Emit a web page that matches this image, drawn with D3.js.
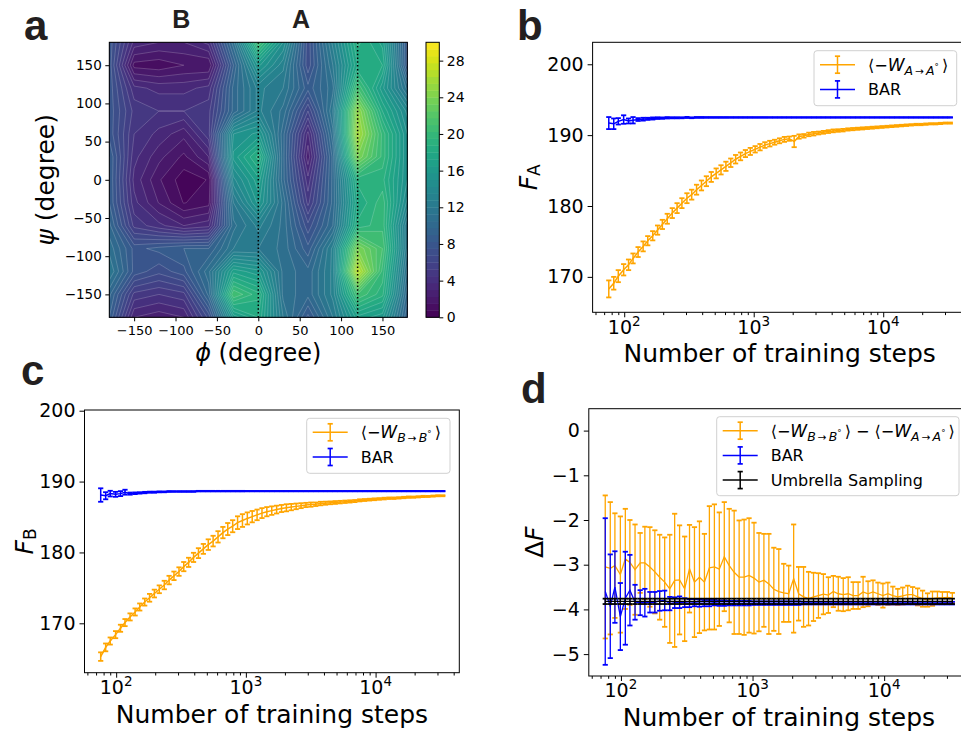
<!DOCTYPE html>
<html>
<head>
<meta charset="utf-8">
<script src="https://cdn.jsdelivr.net/npm/d3@7"></script>
<style>
  body { margin: 0; background: #fff; }
  svg { font-family: "DejaVu Sans", sans-serif; }
</style>
</head>
<body>
<div id="chart-area"></div>
<script>
// ---- panel a: free energy surface on a 30 degree grid ----
const phiGrid = [-180, -150, -120, -90, -60, -30, 0, 30, 60, 90, 120, 150, 180];
const psiGrid = [180, 150, 120, 90, 60, 30, 0, -30, -60, -90, -120, -150, -180];
const fesGrid = [
  [8, 3.5, 3, 3, 4, 11, 21, 15, 7, 13, 19, 17, 8],
  [8, 1.2, 1.0, 1.5, 1.5, 9, 16, 13, 7, 12, 18, 18, 8],
  [8, 4, 3.5, 3.5, 4, 10, 13, 12, 8.5, 11, 21, 16, 11],
  [8, 5, 4.5, 4.5, 5, 10, 13, 11, 6, 12, 25, 18, 14],
  [8, 4.5, 3.5, 2.5, 5, 15, 16, 10, 3.5, 11, 26, 20, 15],
  [9, 4, 2.5, 1.3, 3, 16, 19, 10, 2.5, 10, 24, 20, 15],
  [9, 3.5, 1.6, 0.3, 0.8, 14, 17, 10, 4, 10, 19, 19, 15],
  [9, 4, 2.2, 0.7, 1.2, 12, 16, 11, 5, 10, 18, 20, 14],
  [10, 5, 4, 3, 3.5, 11, 13, 11, 7, 10.5, 19, 20, 12],
  [11, 8, 8.5, 9, 9, 12, 12, 11, 8.5, 13, 24, 21, 12],
  [12, 8, 7, 8, 11, 17, 16, 11, 10, 13, 27, 20, 11],
  [10, 5, 4.5, 5, 10, 21, 19, 11, 10, 13, 21, 19, 10],
  [9, 3, 2.5, 3, 7, 16, 18, 12, 8, 12, 17, 16, 9]
];
const angleTicks = [-150, -100, -50, 0, 50, 100, 150];
const cbTicks = [0, 4, 8, 12, 16, 20, 24, 28];
const phiMarks = [0, 120];

// ---- panels b, c, d: training checkpoints ----
const steps = [76, 83, 90, 99, 108, 117, 128, 140, 152, 166, 181, 197, 215, 235, 256, 279, 305, 332, 362, 395,
  431, 470, 513, 559, 610, 665, 725, 791, 863, 941, 1026, 1119, 1220, 1331, 1451, 1583, 1726, 1883, 2053, 2239,
  2442, 2664, 2905, 3168, 3455, 3769, 4110, 4482, 4889, 5332, 5815, 6342, 6917, 7543, 8227, 8973, 9784, 10672,
  11640, 12690, 13840, 15100, 16460, 17960, 19590, 21360, 23290, 25400, 27710, 30220, 32960];

const fA_work = [168.3, 169.1, 170.1, 171.0, 171.7, 172.6, 173.5, 174.3, 175.1, 175.8, 176.6, 177.4, 178.2, 179.0, 179.7,
  180.4, 181.1, 181.6, 182.3, 182.9, 183.5, 184.1, 184.6, 185.1, 185.6, 186.1, 186.6, 187.0, 187.4, 187.7,
  188.0, 188.3, 188.6, 188.8, 189.0, 189.2, 189.4, 189.5, 189.1, 189.8, 189.9, 190.1, 190.2, 190.3, 190.4,
  190.5, 190.6, 190.65, 190.7, 190.8, 190.85, 190.9, 190.95, 191.0, 191.05, 191.1, 191.15, 191.2, 191.25, 191.3,
  191.35, 191.4, 191.45, 191.5, 191.5, 191.55, 191.6, 191.6, 191.65, 191.7, 191.7];
const fA_workErr = [1.2, 0.9, 0.85, 0.8, 0.75, 0.7, 0.7, 0.7, 0.65, 0.65, 0.65, 0.65, 0.7, 0.7, 0.7,
  0.7, 0.7, 0.7, 0.7, 0.7, 0.7, 0.7, 0.7, 0.65, 0.65, 0.6, 0.6, 0.55, 0.5, 0.5,
  0.45, 0.45, 0.4, 0.4, 0.35, 0.35, 0.35, 0.3, 0.8, 0.3, 0.25, 0.25, 0.25, 0.2, 0.2,
  0.2, 0.2, 0.18, 0.18, 0.16, 0.16, 0.15, 0.15, 0.14, 0.14, 0.13, 0.13, 0.12, 0.12, 0.12,
  0.11, 0.11, 0.1, 0.1, 0.1, 0.1, 0.09, 0.09, 0.09, 0.08, 0.08];
const fA_bar = [191.7, 191.6, 191.95, 192.2, 192.0, 192.1, 192.2, 192.25, 192.3, 192.35, 192.4, 192.4, 192.45, 192.45, 192.45,
  192.45, 192.5, 192.45, 192.5, 192.5, 192.5, 192.5, 192.5, 192.5, 192.5, 192.5, 192.5, 192.5, 192.5, 192.5,
  192.5, 192.5, 192.5, 192.5, 192.5, 192.5, 192.5, 192.5, 192.5, 192.5, 192.5, 192.5, 192.5, 192.5, 192.5,
  192.5, 192.5, 192.5, 192.5, 192.5, 192.5, 192.5, 192.5, 192.5, 192.5, 192.5, 192.5, 192.5, 192.5, 192.5,
  192.5, 192.5, 192.5, 192.5, 192.5, 192.5, 192.5, 192.5, 192.5, 192.5, 192.5];
const fA_barErr = [0.85, 0.75, 0.45, 0.6, 0.35, 0.45, 0.2, 0.2, 0.15, 0.15, 0.12, 0.1, 0.1, 0.08, 0.08,
  0.07, 0.07, 0.06, 0.06, 0.06, 0.05, 0.05, 0.05, 0.05, 0.05, 0.04, 0.04, 0.04, 0.04, 0.04,
  0.04, 0.04, 0.04, 0.03, 0.03, 0.03, 0.03, 0.03, 0.03, 0.03, 0.03, 0.03, 0.03, 0.03, 0.03,
  0.03, 0.03, 0.03, 0.03, 0.03, 0.03, 0.03, 0.03, 0.03, 0.03, 0.03, 0.03, 0.03, 0.03, 0.03,
  0.03, 0.03, 0.03, 0.03, 0.03, 0.03, 0.03, 0.03, 0.03, 0.03, 0.03];

const fB_work = [165.3, 166.6, 167.5, 168.4, 169.3, 170.1, 170.9, 171.6, 172.3, 173.0, 173.6, 174.2, 174.8, 175.4, 176.1,
  176.7, 177.3, 178.0, 178.6, 179.3, 179.9, 180.5, 181.1, 181.6, 182.2, 182.8, 183.3, 183.7, 184.2, 184.5,
  184.8, 185.05, 185.3, 185.55, 185.75, 185.9, 186.05, 186.2, 186.3, 186.4, 186.5, 186.6, 186.7, 186.75, 186.8,
  186.9, 186.95, 187.0, 187.05, 187.1, 187.15, 187.2, 187.25, 187.35, 187.4, 187.45, 187.5, 187.55, 187.6, 187.65,
  187.65, 187.7, 187.75, 187.8, 187.8, 187.85, 187.9, 187.9, 187.95, 188.0, 188.0];
const fB_workErr = [0.6, 0.55, 0.5, 0.5, 0.5, 0.5, 0.5, 0.5, 0.5, 0.5, 0.55, 0.55, 0.55, 0.6, 0.6,
  0.6, 0.6, 0.65, 0.65, 0.65, 0.7, 0.7, 0.75, 0.75, 0.8, 0.8, 0.85, 0.85, 0.9, 0.9,
  0.85, 0.8, 0.75, 0.7, 0.65, 0.6, 0.55, 0.5, 0.5, 0.45, 0.4, 0.35, 0.3, 0.3, 0.25,
  0.25, 0.22, 0.2, 0.2, 0.18, 0.17, 0.16, 0.15, 0.15, 0.14, 0.13, 0.13, 0.12, 0.12, 0.11,
  0.11, 0.1, 0.1, 0.1, 0.09, 0.09, 0.09, 0.08, 0.08, 0.08, 0.07];
const fB_bar = [188.1, 188.0, 188.3, 188.2, 188.3, 188.5, 188.3, 188.35, 188.4, 188.45, 188.5, 188.5, 188.55, 188.55, 188.6,
  188.6, 188.6, 188.6, 188.6, 188.6, 188.65, 188.65, 188.65, 188.65, 188.65, 188.65, 188.65, 188.65, 188.65, 188.65,
  188.65, 188.65, 188.65, 188.65, 188.65, 188.65, 188.65, 188.65, 188.65, 188.65, 188.65, 188.65, 188.65, 188.65, 188.65,
  188.65, 188.65, 188.65, 188.65, 188.65, 188.65, 188.65, 188.65, 188.65, 188.65, 188.65, 188.65, 188.65, 188.65, 188.65,
  188.65, 188.65, 188.65, 188.65, 188.65, 188.65, 188.65, 188.65, 188.65, 188.65, 188.65];
const fB_barErr = [0.95, 0.5, 0.4, 0.35, 0.35, 0.35, 0.15, 0.12, 0.1, 0.1, 0.08, 0.08, 0.07, 0.06, 0.06,
  0.05, 0.05, 0.05, 0.05, 0.05, 0.04, 0.04, 0.04, 0.04, 0.04, 0.04, 0.04, 0.04, 0.04, 0.04,
  0.03, 0.03, 0.03, 0.03, 0.03, 0.03, 0.03, 0.03, 0.03, 0.03, 0.03, 0.03, 0.03, 0.03, 0.03,
  0.03, 0.03, 0.03, 0.03, 0.03, 0.03, 0.03, 0.03, 0.03, 0.03, 0.03, 0.03, 0.03, 0.03, 0.03,
  0.03, 0.03, 0.03, 0.03, 0.03, 0.03, 0.03, 0.03, 0.03, 0.03, 0.03];

const dF_work = [-3.05, -3.08, -3.02, -3.22, -2.87, -2.95, -3.11, -2.96, -2.96, -3.05, -3.16, -3.28, -3.39, -3.54, -3.35,
  -3.34, -3.54, -3.09, -3.39, -3.28, -3.39, -3.07, -3.05, -3.10, -2.82, -3.02, -3.17, -3.28, -3.28, -3.24,
  -3.30, -3.39, -3.35, -3.43, -3.55, -3.60, -3.63, -3.65, -3.31, -3.65, -3.72, -3.76, -3.72, -3.69, -3.66,
  -3.68, -3.60, -3.65, -3.67, -3.65, -3.69, -3.69, -3.61, -3.65, -3.61, -3.65, -3.69, -3.65, -3.69, -3.72,
  -3.70, -3.67, -3.67, -3.72, -3.76, -3.79, -3.76, -3.74, -3.74, -3.73, -3.74];
const dF_workErr = [1.60, 1.48, 1.17, 1.30, 1.12, 0.95, 1.01, 0.67, 0.81, 0.89, 0.93, 0.95, 1.00, 1.21, 1.49,
  1.22, 1.17, 0.98, 1.23, 1.25, 1.08, 1.38, 1.40, 1.27, 1.22, 1.27, 1.38, 1.27, 1.29, 1.28,
  1.24, 1.10, 1.04, 1.12, 0.93, 0.95, 0.65, 0.63, 1.21, 0.60, 0.67, 0.60, 0.54, 0.50, 0.45,
  0.40, 0.35, 0.38, 0.37, 0.37, 0.30, 0.30, 0.34, 0.28, 0.26, 0.25, 0.27, 0.25, 0.20, 0.18,
  0.19, 0.20, 0.17, 0.19, 0.18, 0.15, 0.16, 0.14, 0.13, 0.12, 0.11];
const dF_bar = [-3.60, -3.93, -3.50, -4.16, -3.75, -3.57, -3.84, -3.85, -3.85, -3.84, -3.84, -3.81, -3.80, -3.87, -3.85,
  -3.84, -3.85, -3.86, -3.85, -3.86, -3.86, -3.86, -3.85, -3.86, -3.86, -3.86, -3.86, -3.86, -3.86, -3.86,
  -3.86, -3.86, -3.86, -3.86, -3.86, -3.86, -3.86, -3.86, -3.86, -3.86, -3.86, -3.86, -3.86, -3.86, -3.86,
  -3.86, -3.86, -3.86, -3.86, -3.86, -3.86, -3.86, -3.86, -3.86, -3.86, -3.86, -3.86, -3.86, -3.86, -3.86,
  -3.86, -3.86, -3.86, -3.86, -3.86, -3.86, -3.86, -3.86, -3.86, -3.86, -3.86];
const dF_barErr = [1.64, 1.16, 0.80, 0.75, 1.04, 0.79, 0.39, 0.28, 0.31, 0.23, 0.23, 0.22, 0.22, 0.15, 0.12,
  0.13, 0.10, 0.09, 0.08, 0.08, 0.07, 0.07, 0.06, 0.06, 0.06, 0.05, 0.05, 0.05, 0.05, 0.05,
  0.04, 0.04, 0.04, 0.04, 0.04, 0.04, 0.04, 0.04, 0.04, 0.04, 0.03, 0.03, 0.03, 0.03, 0.03,
  0.03, 0.03, 0.03, 0.03, 0.03, 0.03, 0.03, 0.03, 0.03, 0.03, 0.03, 0.03, 0.03, 0.03, 0.03,
  0.03, 0.03, 0.03, 0.03, 0.03, 0.03, 0.03, 0.03, 0.03, 0.03, 0.03];
const dF_umbrella = -3.82;
const dF_umbrellaErr = 0.06;

const fTicks = [170, 180, 190, 200];
const dTicks = [-5, -4, -3, -2, -1, 0];
const stepMajors = [100, 1000, 10000];
const stepMinors = [60, 70, 80, 90, 200, 300, 400, 500, 600, 700, 800, 900, 2000, 3000, 4000, 5000, 6000, 7000, 8000, 9000, 20000, 30000, 40000];

const ORANGE = "#ffa500", BLUE = "#0000ff", BLACK = "#000000";

const svg = d3.select("#chart-area").append("svg")
    .attr("width", 961)
    .attr("height", 731);

function styleAxis(g, fs) {
    g.select(".domain").remove();
    g.attr("font-family", "DejaVu Sans").attr("font-size", fs);
    g.selectAll(".tick line").attr("stroke", "#000").attr("stroke-width", 1);
    g.selectAll(".tick text").attr("fill", "#000");
}

function panelLetter(x, y, s) {
    svg.append("text").attr("x", x).attr("y", y)
        .attr("font-family", "Liberation Sans, Arial, sans-serif")
        .attr("font-weight", "bold").attr("font-size", 42).attr("fill", "#231f20")
        .text(s);
}

// ================= panel a =================
const aL = 109.3, aR = 407.3, aT = 42.3, aB = 317.3;
const xA = d3.scaleLinear().domain([-180, 180]).range([aL, aR]);
const yA = d3.scaleLinear().domain([-180, 180]).range([aB, aT]);
const color = d3.scaleSequential(d3.interpolateViridis).domain([0, 30]);
const levelStep = 0.75;
const levels = d3.range(0, 30, levelStep);

svg.append("clipPath").attr("id", "clipA").append("rect")
    .attr("x", aL).attr("y", aT).attr("width", aR - aL).attr("height", aB - aT);

const nx = phiGrid.length, ny = psiGrid.length;
const gx = d3.scaleLinear().domain([0.5, nx - 0.5]).range([xA(phiGrid[0]), xA(phiGrid[nx - 1])]);
const gy = d3.scaleLinear().domain([0.5, ny - 0.5]).range([yA(psiGrid[0]), yA(psiGrid[ny - 1])]);
const gridPath = d3.geoPath(d3.geoTransform({
    point: function (x, y) { this.stream.point(gx(x), gy(y)); }
}));
const bands = d3.contours().size([nx, ny]).thresholds(levels)(fesGrid.flat());

const plotA = svg.append("g").attr("clip-path", "url(#clipA)");
plotA.selectAll("path.band")
    .data(bands)
    .join("path")
    .attr("class", "band")
    .attr("d", gridPath)
    .attr("fill", d => color(d.value + levelStep / 2))
    .attr("stroke", "rgba(255,255,255,0.32)")
    .attr("stroke-width", 0.6);

plotA.selectAll("line.mark")
    .data(phiMarks)
    .join("line")
    .attr("x1", d => xA(d)).attr("x2", d => xA(d))
    .attr("y1", aT).attr("y2", aB)
    .attr("stroke", "#000").attr("stroke-width", 1.5)
    .attr("stroke-dasharray", "1.5,2.3");

svg.append("rect").attr("x", aL).attr("y", aT).attr("width", aR - aL).attr("height", aB - aT)
    .attr("fill", "none").attr("stroke", "#000").attr("stroke-width", 1);

let ax = svg.append("g").attr("transform", "translate(0," + aB + ")")
    .call(d3.axisBottom(xA).tickValues(angleTicks).tickSize(4).tickPadding(4));
styleAxis(ax, 13);
let ay = svg.append("g").attr("transform", "translate(" + aL + ",0)")
    .call(d3.axisLeft(yA).tickValues(angleTicks).tickSize(4).tickPadding(3.5));
styleAxis(ay, 13.5);

svg.append("text").attr("x", (aL + aR) / 2).attr("y", 361).attr("text-anchor", "middle")
    .attr("font-size", 24)
    .call(t => {
        t.append("tspan").attr("font-style", "italic").text("ϕ");
        t.append("tspan").text(" (degree)");
    });
svg.append("text").attr("transform", "translate(54," + (aT + aB) / 2 + ") rotate(-90)")
    .attr("text-anchor", "middle").attr("font-size", 25)
    .call(t => {
        t.append("tspan").attr("font-style", "italic").text("ψ");
        t.append("tspan").text(" (degree)");
    });

// state labels above the map
[["B", -93], ["A", 51.5]].forEach(([s, phi]) => {
    svg.append("text").attr("x", xA(phi)).attr("y", 28.3).attr("text-anchor", "middle")
        .attr("font-family", "Liberation Sans, Arial, sans-serif")
        .attr("font-weight", "bold").attr("font-size", 25).attr("fill", "#231f20").text(s);
});

// colorbar
const cbL = 426, cbW = 13.3;
const cbY = d3.scaleLinear().domain([0, 30]).range([aB, aT]);
svg.append("g").selectAll("rect")
    .data(levels)
    .join("rect")
    .attr("x", cbL).attr("width", cbW)
    .attr("y", d => cbY(d + levelStep))
    .attr("height", d => cbY(d) - cbY(d + levelStep) + 0.4)
    .attr("fill", d => color(d + levelStep / 2));
svg.append("rect").attr("x", cbL).attr("y", aT).attr("width", cbW).attr("height", aB - aT)
    .attr("fill", "none").attr("stroke", "#000").attr("stroke-width", 1);
let cb = svg.append("g").attr("transform", "translate(" + (cbL + cbW) + ",0)")
    .call(d3.axisRight(cbY).tickValues(cbTicks).tickSize(4).tickPadding(3.5));
styleAxis(cb, 14);

panelLetter(24, 40, "a");

// ================= line panels =================
function drawSeries(g, x, y, ys, es, col, lw) {
    const pts = steps.map((s, i) => ({ s: s, v: ys[i], e: es[i] }));
    g.append("path").datum(pts)
        .attr("fill", "none").attr("stroke", col).attr("stroke-width", lw)
        .attr("d", d3.line().x(d => x(d.s)).y(d => y(d.v)));
    const eg = g.append("g").attr("stroke", col);
    eg.selectAll("line.bar").data(pts).join("line")
        .attr("stroke-width", lw)
        .attr("x1", d => x(d.s)).attr("x2", d => x(d.s))
        .attr("y1", d => y(d.v - d.e)).attr("y2", d => y(d.v + d.e));
    [-1, 1].forEach(sign => {
        eg.selectAll("line.cap" + (sign > 0 ? "t" : "b")).data(pts).join("line")
            .attr("stroke-width", 1.8)
            .attr("x1", d => x(d.s) - 2.6).attr("x2", d => x(d.s) + 2.6)
            .attr("y1", d => y(d.v + sign * d.e)).attr("y2", d => y(d.v + sign * d.e));
    });
}

function workLabel(t, s) {
    t.append("tspan").text("⟨−");
    t.append("tspan").attr("font-style", "italic").attr("font-size", 17).text("W");
    t.append("tspan").attr("font-size", 12.5).attr("dy", 4).attr("font-style", "italic").text(s);
    t.append("tspan").attr("font-size", 10.5).text("\u2009→\u2009");
    t.append("tspan").attr("font-size", 12.5).attr("font-style", "italic").text(s);
    t.append("tspan").attr("font-size", 8.5).attr("dy", -5).text("°");
    t.append("tspan").attr("font-size", 16).attr("dy", 1).text("\u2009⟩");
}

function legend(box, rows) {
    const g = svg.append("g");
    g.append("rect").attr("x", box.x).attr("y", box.y).attr("width", box.w).attr("height", box.h)
        .attr("rx", 3).attr("fill", "rgba(255,255,255,0.8)").attr("stroke", "#d0d0d0").attr("stroke-width", 1);
    rows.forEach((r, i) => {
        const yy = box.y + 14 + i * 24.7;
        const x1 = box.x + 6, x2 = box.x + 41, xm = (x1 + x2) / 2;
        g.append("line").attr("x1", x1).attr("x2", x2).attr("y1", yy).attr("y2", yy)
            .attr("stroke", r.color).attr("stroke-width", 1.5);
        g.append("line").attr("x1", xm).attr("x2", xm).attr("y1", yy - 8.5).attr("y2", yy + 8.5)
            .attr("stroke", r.color).attr("stroke-width", 1.5);
        [-8.5, 8.5].forEach(o => g.append("line").attr("x1", xm - 2.6).attr("x2", xm + 2.6)
            .attr("y1", yy + o).attr("y2", yy + o).attr("stroke", r.color).attr("stroke-width", 1.7));
        const t = g.append("text").attr("x", box.x + 54).attr("y", yy + 6).attr("font-size", 16);
        r.label(t);
    });
}

function linePanel(p) {
    const x = d3.scaleLog().domain([57, 44200]).range([p.left, p.right]);
    const y = d3.scaleLinear().domain(p.ylim).range([p.bottom, p.top]);
    const g = svg.append("g");

    p.series.forEach(s => drawSeries(g, x, y, s.ys, s.es, s.color, p.lw));

    svg.append("rect").attr("x", p.left).attr("y", p.top)
        .attr("width", p.right - p.left).attr("height", p.bottom - p.top)
        .attr("fill", "none").attr("stroke", "#000").attr("stroke-width", 1);

    let xMaj = svg.append("g").attr("transform", "translate(0," + p.bottom + ")")
        .call(d3.axisBottom(x).tickValues(stepMajors).tickSize(5).tickFormat(""));
    styleAxis(xMaj, 19);
    let xMin = svg.append("g").attr("transform", "translate(0," + p.bottom + ")")
        .call(d3.axisBottom(x).tickValues(stepMinors).tickSize(2.8).tickFormat(""));
    styleAxis(xMin, 19);
    stepMajors.forEach(v => {
        const t = svg.append("text").attr("x", x(v)).attr("y", p.bottom + 21.3)
            .attr("text-anchor", "middle").attr("font-size", 19);
        t.append("tspan").text("10");
        t.append("tspan").attr("font-size", 13.5).attr("dy", -8).text(Math.round(Math.log10(v)));
    });

    let yAx = svg.append("g").attr("transform", "translate(" + p.left + ",0)")
        .call(d3.axisLeft(y).tickValues(p.yticks).tickSize(5).tickPadding(4).tickFormat(d3.format("d")));
    styleAxis(yAx, 19);

    svg.append("text").attr("x", (p.left + p.right) / 2).attr("y", p.xlabelY)
        .attr("text-anchor", "middle").attr("font-size", 25).text("Number of training steps");

    const yl = svg.append("text")
        .attr("transform", "translate(" + p.ylabelX + "," + (p.top + p.bottom) / 2 + ") rotate(-90)")
        .attr("text-anchor", "middle").attr("font-size", 25);
    p.ylabel(yl);

    legend(p.legendBox, p.legendRows);
}

// panel b
linePanel({
    left: 592.6, right: 966.8, top: 42.3, bottom: 312.3,
    ylim: [165, 203.1], yticks: fTicks, lw: 1.5,
    xlabelY: 362, ylabelX: 537,
    series: [
        { ys: fA_work, es: fA_workErr, color: ORANGE },
        { ys: fA_bar, es: fA_barErr, color: BLUE }
    ],
    ylabel: t => {
        t.append("tspan").attr("font-style", "italic").text("F");
        t.append("tspan").attr("font-size", 17).attr("dy", 3).text("A");
    },
    legendBox: { x: 814, y: 50.7, w: 142.7, h: 55 },
    legendRows: [
        { color: ORANGE, label: t => workLabel(t, "A") },
        { color: BLUE, label: t => t.text("BAR") }
    ]
});
panelLetter(517, 40, "b");

// panel c
linePanel({
    left: 84.5, right: 459.3, top: 410, bottom: 672.7,
    ylim: [163.03, 200.1], yticks: fTicks, lw: 1.5,
    xlabelY: 723, ylabelX: 33,
    series: [
        { ys: fB_work, es: fB_workErr, color: ORANGE },
        { ys: fB_bar, es: fB_barErr, color: BLUE }
    ],
    ylabel: t => {
        t.append("tspan").attr("font-style", "italic").text("F");
        t.append("tspan").attr("font-size", 17).attr("dy", 3).text("B");
    },
    legendBox: { x: 306.7, y: 418.3, w: 143.3, h: 55 },
    legendRows: [
        { color: ORANGE, label: t => workLabel(t, "B") },
        { color: BLUE, label: t => t.text("BAR") }
    ]
});
panelLetter(21, 385, "c");

// panel d
linePanel({
    left: 588.8, right: 969.1, top: 408.7, bottom: 676,
    ylim: [-5.49, 0.49], yticks: dTicks, lw: 1.3,
    xlabelY: 726, ylabelX: 543,
    series: [
        { ys: dF_work, es: dF_workErr, color: ORANGE },
        { ys: dF_bar, es: dF_barErr, color: BLUE },
        { ys: steps.map(() => dF_umbrella), es: steps.map(() => dF_umbrellaErr), color: BLACK }
    ],
    ylabel: t => {
        t.append("tspan").text("Δ");
        t.append("tspan").attr("font-style", "italic").text("F");
    },
    legendBox: { x: 716.7, y: 416.7, w: 242.3, h: 79 },
    legendRows: [
        { color: ORANGE, label: t => { workLabel(t, "B"); t.append("tspan").text(" − "); workLabel(t, "A"); } },
        { color: BLUE, label: t => t.text("BAR") },
        { color: BLACK, label: t => t.text("Umbrella Sampling") }
    ]
});
panelLetter(521, 403, "d");
</script>
</body>
</html>
